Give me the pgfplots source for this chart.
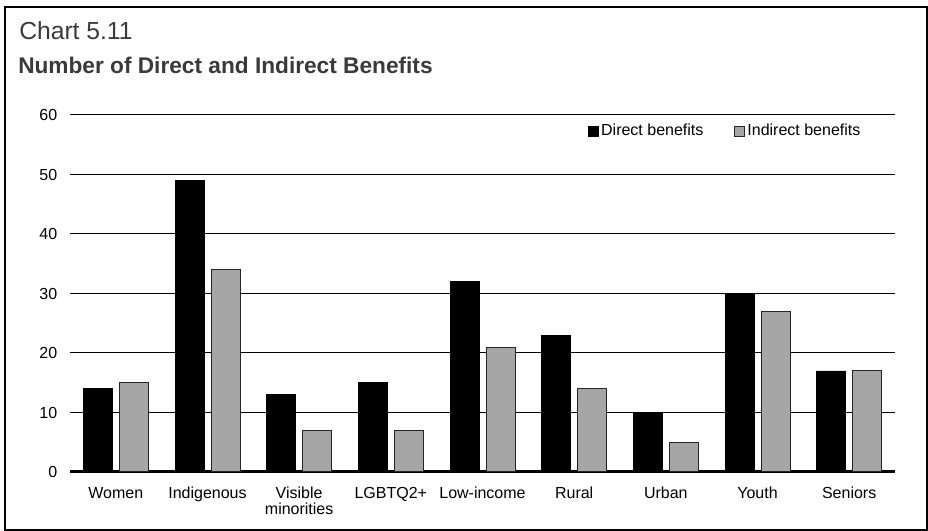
\documentclass[border=0pt]{standalone}
\usepackage{fontspec}
\setmainfont{Liberation Sans}
\usepackage{pgfplots}
\pgfplotsset{compat=1.18}
\definecolor{barg}{HTML}{A6A6A6}
\definecolor{titleg}{HTML}{3A3A3A}
\pgfplotsset{sqlegend/.style={legend image code/.code={\draw[##1,line width=0.5pt] (0pt,-3.75pt) rectangle (7.5pt,3.75pt);}}}
\begin{document}
\begin{tikzpicture}[x=0.75pt,y=0.75pt]
\useasboundingbox (0,0) rectangle (928,531);
\draw[line width=1.5pt] (5,1) rectangle (927,524);
\node[anchor=base west, font=\fontsize{18.5}{22}\selectfont, text=titleg, inner sep=0] at (19,491) {Chart 5.11};
\node[anchor=base west, font=\fontsize{17}{20}\selectfont\bfseries, text=titleg, inner sep=0] at (18,457) {Number of Direct and Indirect Benefits};
\begin{axis}[
  at={(52.5pt,44.25pt)}, anchor=south west,
  scale only axis, width=618.75pt, height=267.75pt,
  ybar=5.25pt, bar width=21.75pt,
  ymin=0, ymax=60, ytick={0,10,...,60},
  xmin=-0.5, xmax=8.5, xtick=data,
  xticklabels={Women,Indigenous,{Visible\\minorities},LGBTQ2+,Low-income,Rural,Urban,Youth,Seniors},
  axis x line*=bottom, axis y line*=left,
  y axis line style={draw=none},
  x axis line style={line width=2.25pt,-},
  major tick length=0pt,
  ymajorgrids, grid style={black, line width=0.75pt},
  xticklabel style={align=center, font=\fontsize{12}{12}\selectfont, yshift=-8pt},
  yticklabel style={font=\fontsize{12}{12}\selectfont, xshift=-6pt},
  /pgf/number format/assume math mode=true,
  legend style={at={(0.6225,0.955)}, anchor=west, draw=none, fill=none,
    font=\fontsize{12}{12}\selectfont, legend columns=2,
    /tikz/every even column/.append style={column sep=21pt}},
  legend cell align=left,
  clip=false,
]
\addplot[fill=black, draw=black, sqlegend]
  coordinates {(0,14) (1,49) (2,13) (3,15) (4,32) (5,23) (6,10) (7,30) (8,17)};
\addplot[fill=barg, draw=black!85, line width=0.75pt, sqlegend]
  coordinates {(0,15) (1,34) (2,7) (3,7) (4,21) (5,14) (6,5) (7,27) (8,17)};
\legend{Direct benefits, Indirect benefits}
\end{axis}
\end{tikzpicture}
\end{document}
